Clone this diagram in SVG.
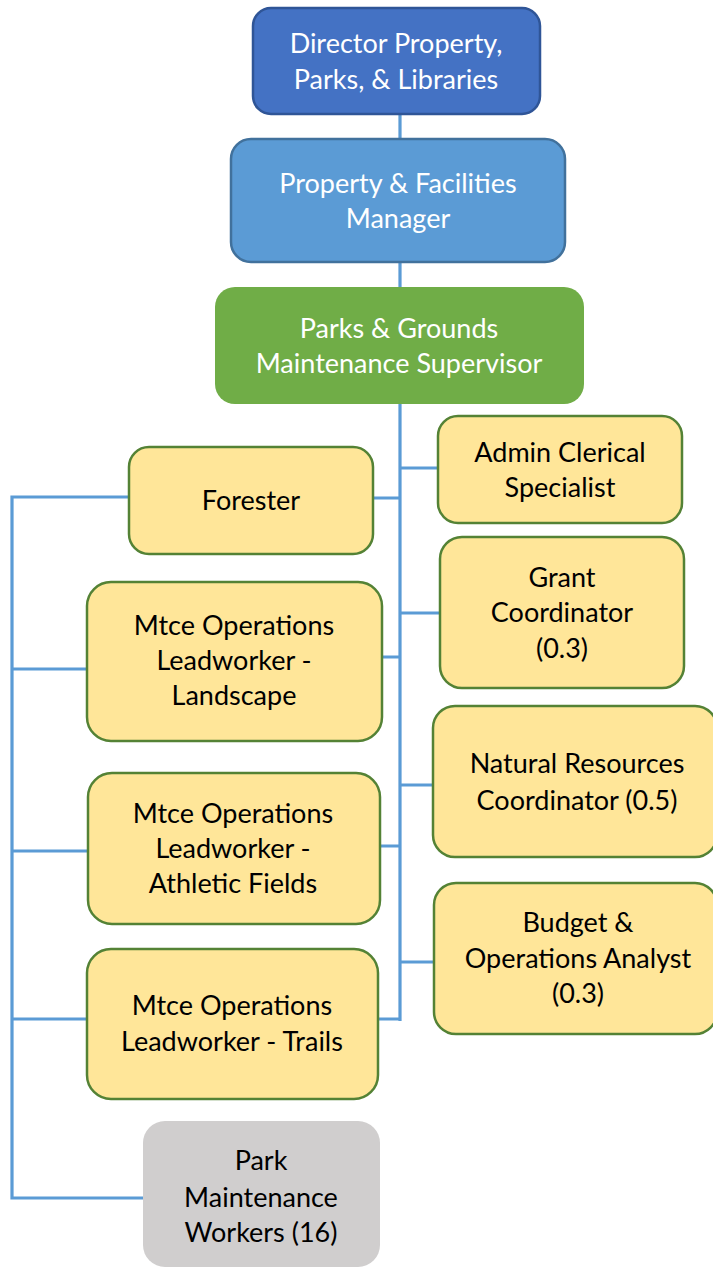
<svg xmlns="http://www.w3.org/2000/svg" width="713" height="1269" viewBox="0 0 713 1269">
<style>
.t{font-family:Lato,"Open Sans","Liberation Sans",sans-serif;font-size:27px;text-anchor:middle}
.w{fill:#ffffff}
.k{fill:#000000}
.y{fill:#FFE699;stroke:#548235;stroke-width:2.5}
.c{fill:none;stroke:#5B9BD5;stroke-width:3.2}
</style>
<rect width="713" height="1269" fill="#ffffff"/>
<g id="connectors">
<path class="c" d="M400,113V139M400,262V287M400,404V1021"/>
<path class="c" d="M400,468H438M373,498H400M400,613H440M382,657H400M400,785H433M380,846H400M400,962H434M378,1019H400"/>
<path class="c" d="M129,497H12V1198H143M12,669H87M12,851H88M12,1019H87"/>
</g>
<g id="director">
<rect x="253" y="8" width="287" height="106" rx="18" fill="#4472C4" stroke="#2F5597" stroke-width="2.5"/>
<text class="t w" x="396" y="53">Director Property,</text>
<text class="t w" x="396" y="89">Parks, &amp; Libraries</text>
</g>
<g id="manager">
<rect x="231" y="139" width="334" height="123" rx="20" fill="#5B9BD5" stroke="#41719C" stroke-width="2.5"/>
<text class="t w" x="398" y="193">Property &amp; Facilities</text>
<text class="t w" x="398" y="228">Manager</text>
</g>
<g id="supervisor">
<rect x="215" y="287" width="369" height="117" rx="20" fill="#70AD47"/>
<text class="t w" x="399" y="338">Parks &amp; Grounds</text>
<text class="t w" x="399" y="373">Maintenance Supervisor</text>
</g>
<g id="admin">
<rect class="y" x="438" y="416" width="244" height="107" rx="20"/>
<text class="t k" x="560" y="462">Admin Clerical</text>
<text class="t k" x="560" y="497">Specialist</text>
</g>
<g id="forester">
<rect class="y" x="129" y="447" width="244" height="107" rx="20"/>
<text class="t k" x="251" y="510">Forester</text>
</g>
<g id="grant">
<rect class="y" x="440" y="537" width="244" height="151" rx="22"/>
<text class="t k" x="562" y="587">Grant</text>
<text class="t k" x="562" y="622">Coordinator</text>
<text class="t k" x="562" y="658">(0.3)</text>
</g>
<g id="landscape">
<rect class="y" x="87" y="582" width="295" height="159" rx="24"/>
<text class="t k" x="234" y="635">Mtce Operations</text>
<text class="t k" x="234" y="670">Leadworker -</text>
<text class="t k" x="234" y="705">Landscape</text>
</g>
<g id="natural">
<rect class="y" x="433" y="706" width="284" height="151" rx="22"/>
<text class="t k" x="577" y="773">Natural Resources</text>
<text class="t k" x="577" y="810">Coordinator (0.5)</text>
</g>
<g id="athletic">
<rect class="y" x="88" y="773" width="292" height="151" rx="24"/>
<text class="t k" x="233" y="823">Mtce Operations</text>
<text class="t k" x="233" y="858">Leadworker -</text>
<text class="t k" x="233" y="893">Athletic Fields</text>
</g>
<g id="budget">
<rect class="y" x="434" y="883" width="283" height="151" rx="22"/>
<text class="t k" x="578" y="932">Budget &amp;</text>
<text class="t k" x="578" y="968">Operations Analyst</text>
<text class="t k" x="578" y="1003">(0.3)</text>
</g>
<g id="trails">
<rect class="y" x="87" y="949" width="291" height="150" rx="24"/>
<text class="t k" x="232" y="1015">Mtce Operations</text>
<text class="t k" x="232" y="1051">Leadworker - Trails</text>
</g>
<g id="workers">
<rect x="143" y="1121" width="237" height="146" rx="22" fill="#D0CECE"/>
<text class="t k" x="261" y="1170">Park</text>
<text class="t k" x="261" y="1207">Maintenance</text>
<text class="t k" x="261" y="1242">Workers (16)</text>
</g>
</svg>
